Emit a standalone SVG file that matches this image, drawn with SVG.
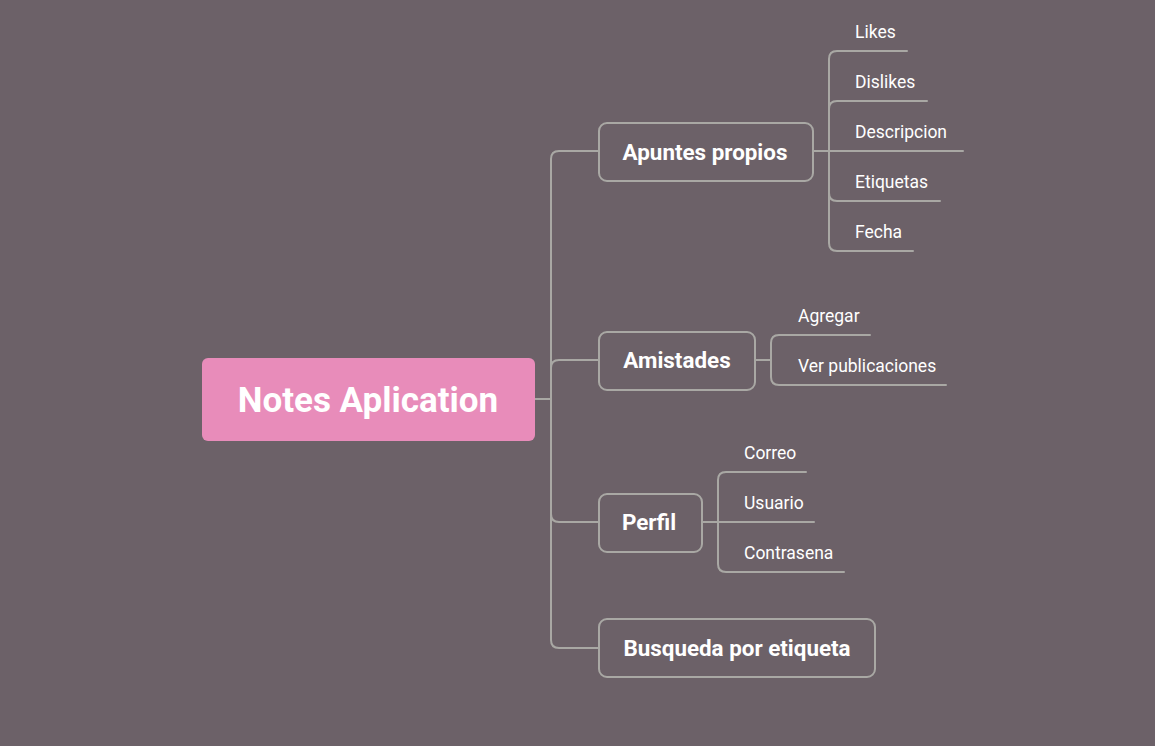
<svg xmlns="http://www.w3.org/2000/svg" width="1155" height="746" viewBox="0 0 1155 746">
<style>
.bg{fill:#6c6168}
.ln{fill:none;stroke:#a9a8a4;stroke-width:2;stroke-linecap:round}
.box{fill:#6c6168;stroke:#a9a8a4;stroke-width:2}
.t1{font-family:Roboto,"Liberation Sans",sans-serif;font-weight:bold;font-size:22.4px;fill:#ffffff;text-anchor:middle}
.t2{font-family:Roboto,"Liberation Sans",sans-serif;font-size:17.5px;fill:#ffffff}
.root{font-family:Roboto,"Liberation Sans",sans-serif;font-weight:bold;font-size:35px;fill:#ffffff;text-anchor:middle}
</style>
<rect class="bg" x="0" y="0" width="1155" height="746"/>
<g id="connectors">
<path class="ln" d="M535 399 H551"/>
<path class="ln" d="M599 151 H559 Q551 151 551 159 V640 Q551 648 559 648 H599"/>
<path class="ln" d="M551 368 Q551 360 559 360 H599"/>
<path class="ln" d="M551 514 Q551 522 559 522 H599"/>
<path class="ln" d="M813 151 H963"/>
<path class="ln" d="M907 51 H837 Q829 51 829 59 V243 Q829 251 837 251 H913"/>
<path class="ln" d="M829 109 Q829 101 837 101 H927"/>
<path class="ln" d="M829 193 Q829 201 837 201 H940"/>
<path class="ln" d="M755 360 H771"/>
<path class="ln" d="M870 335 H779 Q771 335 771 343 V377 Q771 385 779 385 H946"/>
<path class="ln" d="M702 522 H814"/>
<path class="ln" d="M806 472 H726 Q718 472 718 480 V564 Q718 572 726 572 H844"/>
</g>
<g id="root">
<rect x="202" y="358" width="333" height="83" rx="6" fill="#e88cba"/>
<text class="root" x="368" y="412">Notes Aplication</text>
</g>
<g id="apuntes">
<rect class="box" x="599" y="123" width="214" height="58" rx="8"/>
<text class="t1" x="705" y="160">Apuntes propios</text>
</g>
<g id="amistades">
<rect class="box" x="599" y="332" width="156" height="58" rx="8"/>
<text class="t1" x="677" y="368">Amistades</text>
</g>
<g id="perfil">
<rect class="box" x="599" y="494" width="103" height="58" rx="8"/>
<text class="t1" x="649" y="530">Perfil</text>
</g>
<g id="busqueda">
<rect class="box" x="599" y="619" width="276" height="58" rx="8"/>
<text class="t1" x="737" y="656">Busqueda por etiqueta</text>
</g>
<g id="likes"><text class="t2" x="855" y="38">Likes</text></g>
<g id="dislikes"><text class="t2" x="855" y="88">Dislikes</text></g>
<g id="descripcion"><text class="t2" x="855" y="138">Descripcion</text></g>
<g id="etiquetas"><text class="t2" x="855" y="188">Etiquetas</text></g>
<g id="fecha"><text class="t2" x="855" y="238">Fecha</text></g>
<g id="agregar"><text class="t2" x="798" y="322">Agregar</text></g>
<g id="ver"><text class="t2" x="798" y="372">Ver publicaciones</text></g>
<g id="correo"><text class="t2" x="744" y="459">Correo</text></g>
<g id="usuario"><text class="t2" x="744" y="509">Usuario</text></g>
<g id="contrasena"><text class="t2" x="744" y="559">Contrasena</text></g>
</svg>
